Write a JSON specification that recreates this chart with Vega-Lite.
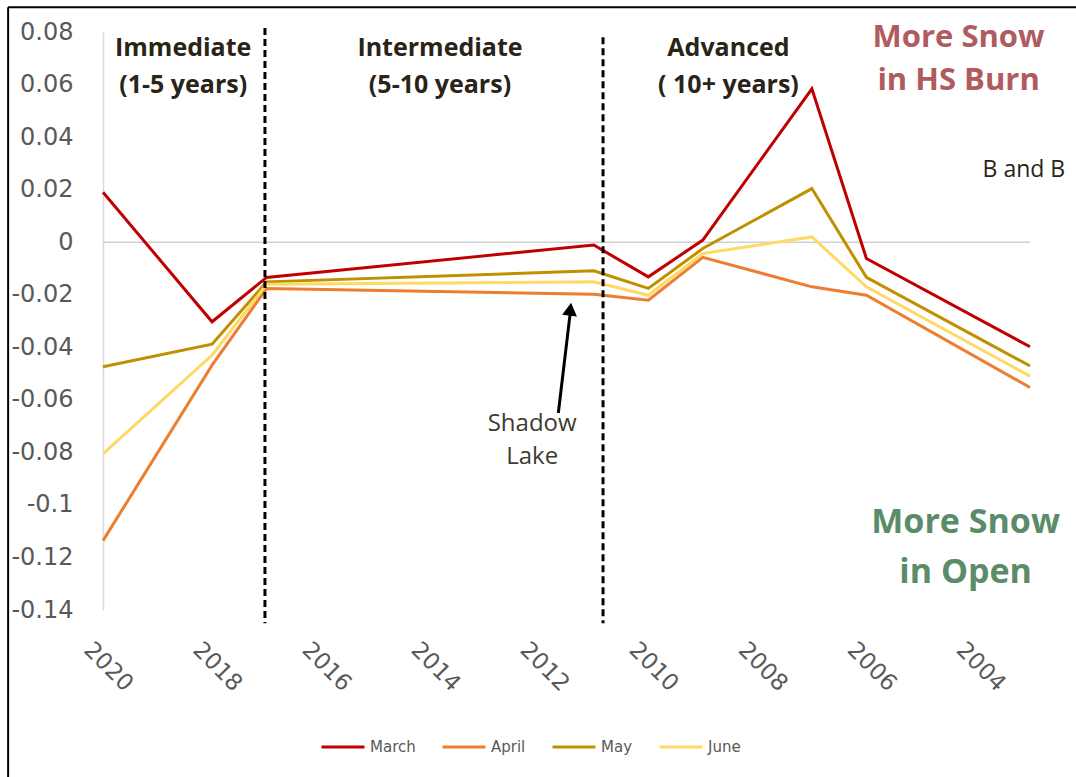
{
  "$schema": "https://vega.github.io/schema/vega-lite/v6.json",
  "width": 927,
  "height": 578,
  "autosize": {"type": "none"},
  "padding": {"left": 103, "top": 32, "right": 46, "bottom": 167},
  "background": "white",
  "config": {"view": {"stroke": null}, "font": "Open Sans"},
  "resolve": {"axis": {"x": "independent", "y": "independent"}},
  "layer": [
    {
      "data": {"values": [
        {"x": 2021.74, "x2": 2021.74, "y": -0.22, "y2": 0.0894},
        {"x": 2021.74, "x2": 2000, "y": 0.0894, "y2": 0.0894}
      ]},
      "mark": {"type": "rule", "color": "black", "strokeWidth": 2},
      "encoding": {
        "x": {"field": "x", "type": "quantitative", "scale": {"domain": [2003, 2020], "reverse": true, "nice": false, "zero": false}, "axis": null},
        "x2": {"field": "x2"},
        "y": {"field": "y", "type": "quantitative", "scale": {"domain": [-0.14, 0.08], "nice": false, "zero": false}, "axis": null},
        "y2": {"field": "y2"}
      }
    },
    {
      "data": {"values": [{"y": 0}]},
      "mark": {"type": "rule", "color": "#d0d0d0", "strokeWidth": 1.5},
      "encoding": {
        "y": {"field": "y", "type": "quantitative", "scale": {"domain": [-0.14, 0.08], "nice": false, "zero": false}, "axis": null}
      }
    },
    {
      "data": {"values": [
        {"year": 2020, "month": "March", "value": 0.019},
        {"year": 2018, "month": "March", "value": -0.0303},
        {"year": 2017, "month": "March", "value": -0.0134},
        {"year": 2011, "month": "March", "value": -0.0011},
        {"year": 2010, "month": "March", "value": -0.0132},
        {"year": 2009, "month": "March", "value": 0.0008},
        {"year": 2007, "month": "March", "value": 0.0584},
        {"year": 2006, "month": "March", "value": -0.0062},
        {"year": 2003, "month": "March", "value": -0.0398},
        {"year": 2020, "month": "April", "value": -0.1136},
        {"year": 2018, "month": "April", "value": -0.0468},
        {"year": 2017, "month": "April", "value": -0.0176},
        {"year": 2011, "month": "April", "value": -0.0198},
        {"year": 2010, "month": "April", "value": -0.0221},
        {"year": 2009, "month": "April", "value": -0.0058},
        {"year": 2007, "month": "April", "value": -0.017},
        {"year": 2006, "month": "April", "value": -0.0202},
        {"year": 2003, "month": "April", "value": -0.0553},
        {"year": 2020, "month": "May", "value": -0.0474},
        {"year": 2018, "month": "May", "value": -0.0388},
        {"year": 2017, "month": "May", "value": -0.0151},
        {"year": 2011, "month": "May", "value": -0.0109},
        {"year": 2010, "month": "May", "value": -0.0176},
        {"year": 2009, "month": "May", "value": -0.0024},
        {"year": 2007, "month": "May", "value": 0.0204},
        {"year": 2006, "month": "May", "value": -0.0134},
        {"year": 2003, "month": "May", "value": -0.0471},
        {"year": 2020, "month": "June", "value": -0.0806},
        {"year": 2018, "month": "June", "value": -0.043},
        {"year": 2017, "month": "June", "value": -0.016},
        {"year": 2011, "month": "June", "value": -0.0151},
        {"year": 2010, "month": "June", "value": -0.0202},
        {"year": 2009, "month": "June", "value": -0.0043},
        {"year": 2007, "month": "June", "value": 0.002},
        {"year": 2006, "month": "June", "value": -0.017},
        {"year": 2003, "month": "June", "value": -0.051}
      ]},
      "mark": {"type": "line", "strokeWidth": 3},
      "encoding": {
        "x": {
          "field": "year", "type": "quantitative",
          "scale": {"domain": [2003, 2020], "reverse": true, "nice": false, "zero": false},
          "axis": {
            "title": null, "values": [2020, 2018, 2016, 2014, 2012, 2010, 2008, 2006, 2004],
            "format": "d", "labelAngle": 45, "labelAlign": "left", "labelBaseline": "top",
            "labelFont": "DejaVu Sans", "labelFontSize": 23, "labelColor": "#595959",
            "labelPadding": 28, "labelOffset": -8, "ticks": false, "domain": false, "grid": false
          }
        },
        "y": {
          "field": "value", "type": "quantitative",
          "scale": {"domain": [-0.14, 0.08], "nice": false, "zero": false},
          "axis": {
            "title": null,
            "values": [-0.14, -0.12, -0.1, -0.08, -0.06, -0.04, -0.02, 0, 0.02, 0.04, 0.06, 0.08],
            "labelExpr": "replace(format(datum.value, '.2~f'), '\u2212', '-')",
            "labelFont": "DejaVu Sans", "labelFontSize": 24, "labelColor": "#595959",
            "labelPadding": 30, "ticks": false, "grid": false,
            "domain": true, "domainColor": "#d9d9d9", "domainWidth": 1.5
          }
        },
        "color": {
          "field": "month", "type": "nominal",
          "scale": {"domain": ["March", "April", "May", "June"], "range": ["#C00000", "#ED7D31", "#BF9000", "#FFD966"]},
          "legend": {
            "orient": "none", "legendX": 217, "legendY": 692, "direction": "horizontal",
            "title": null, "symbolType": "stroke", "symbolSize": 1849, "symbolStrokeWidth": 3,
            "labelFont": "DejaVu Sans", "labelFontSize": 15, "labelColor": "#595959",
            "labelOffset": 4, "columnPadding": 20
          }
        },
        "order": {"field": "year", "type": "quantitative"}
      }
    },
    {
      "data": {"values": [
        {"x": 2017.03, "y": 0.0815, "y2": -0.145},
        {"x": 2010.83, "y": 0.078, "y2": -0.145}
      ]},
      "mark": {"type": "rule", "color": "black", "strokeWidth": 3, "strokeDash": [7, 4]},
      "encoding": {
        "x": {"field": "x", "type": "quantitative", "scale": {"domain": [2003, 2020], "reverse": true, "nice": false, "zero": false}, "axis": null},
        "y": {"field": "y", "type": "quantitative", "scale": {"domain": [-0.14, 0.08], "nice": false, "zero": false}, "axis": null},
        "y2": {"field": "y2"}
      }
    },
    {
      "data": {"values": [{"x": 2011.65, "x2": 2011.43, "y": -0.065, "y2": -0.0266}]},
      "mark": {"type": "rule", "color": "black", "strokeWidth": 3},
      "encoding": {
        "x": {"field": "x", "type": "quantitative", "scale": {"domain": [2003, 2020], "reverse": true, "nice": false, "zero": false}, "axis": null},
        "x2": {"field": "x2"},
        "y": {"field": "y", "type": "quantitative", "scale": {"domain": [-0.14, 0.08], "nice": false, "zero": false}, "axis": null},
        "y2": {"field": "y2"}
      }
    },
    {
      "data": {"values": [{"x": 2011.43, "y": -0.0255}]},
      "mark": {"type": "point", "shape": "triangle-up", "filled": true, "color": "black", "size": 220, "angle": 7, "opacity": 1},
      "encoding": {
        "x": {"field": "x", "type": "quantitative", "scale": {"domain": [2003, 2020], "reverse": true, "nice": false, "zero": false}, "axis": null},
        "y": {"field": "y", "type": "quantitative", "scale": {"domain": [-0.14, 0.08], "nice": false, "zero": false}, "axis": null}
      }
    },
    {
      "data": {"values": [
        {"label": "Immediate\n(1-5 years)", "x": 2018.53, "y": 0.0738},
        {"label": "Intermediate\n(5-10 years)", "x": 2013.82, "y": 0.0738},
        {"label": "Advanced\n( 10+ years)", "x": 2008.53, "y": 0.0738}
      ]},
      "mark": {"type": "text", "font": "Open Sans", "fontWeight": "bold", "fontSize": 25, "color": "#2A2418", "align": "center", "baseline": "middle", "lineBreak": "\n", "lineHeight": 37},
      "encoding": {
        "x": {"field": "x", "type": "quantitative", "scale": {"domain": [2003, 2020], "reverse": true, "nice": false, "zero": false}, "axis": null},
        "y": {"field": "y", "type": "quantitative", "scale": {"domain": [-0.14, 0.08], "nice": false, "zero": false}, "axis": null},
        "text": {"field": "label", "type": "nominal"}
      }
    },
    {
      "data": {"values": [{"label": "More Snow\nin HS Burn", "x": 2004.31, "y": 0.0779}]},
      "mark": {"type": "text", "font": "Open Sans", "fontWeight": "bold", "fontSize": 31, "color": "#B05B5E", "align": "center", "baseline": "middle", "lineBreak": "\n", "lineHeight": 43},
      "encoding": {
        "x": {"field": "x", "type": "quantitative", "scale": {"domain": [2003, 2020], "reverse": true, "nice": false, "zero": false}, "axis": null},
        "y": {"field": "y", "type": "quantitative", "scale": {"domain": [-0.14, 0.08], "nice": false, "zero": false}, "axis": null},
        "text": {"field": "label", "type": "nominal"}
      }
    },
    {
      "data": {"values": [{"label": "More Snow\nin Open", "x": 2004.18, "y": -0.1069}]},
      "mark": {"type": "text", "font": "Open Sans", "fontWeight": "bold", "fontSize": 34, "color": "#5A8C69", "align": "center", "baseline": "middle", "lineBreak": "\n", "lineHeight": 50},
      "encoding": {
        "x": {"field": "x", "type": "quantitative", "scale": {"domain": [2003, 2020], "reverse": true, "nice": false, "zero": false}, "axis": null},
        "y": {"field": "y", "type": "quantitative", "scale": {"domain": [-0.14, 0.08], "nice": false, "zero": false}, "axis": null},
        "text": {"field": "label", "type": "nominal"}
      }
    },
    {
      "data": {"values": [{"label": "B and B", "x": 2003.87, "y": 0.0276}]},
      "mark": {"type": "text", "font": "Open Sans", "fontSize": 23, "color": "#2A2418", "align": "left", "baseline": "middle"},
      "encoding": {
        "x": {"field": "x", "type": "quantitative", "scale": {"domain": [2003, 2020], "reverse": true, "nice": false, "zero": false}, "axis": null},
        "y": {"field": "y", "type": "quantitative", "scale": {"domain": [-0.14, 0.08], "nice": false, "zero": false}, "axis": null},
        "text": {"field": "label", "type": "nominal"}
      }
    },
    {
      "data": {"values": [{"label": "Shadow\nLake", "x": 2012.13, "y": -0.0692}]},
      "mark": {"type": "text", "font": "Open Sans", "fontSize": 24, "color": "#3F3A30", "align": "center", "baseline": "middle", "lineBreak": "\n", "lineHeight": 33},
      "encoding": {
        "x": {"field": "x", "type": "quantitative", "scale": {"domain": [2003, 2020], "reverse": true, "nice": false, "zero": false}, "axis": null},
        "y": {"field": "y", "type": "quantitative", "scale": {"domain": [-0.14, 0.08], "nice": false, "zero": false}, "axis": null},
        "text": {"field": "label", "type": "nominal"}
      }
    }
  ]
}
